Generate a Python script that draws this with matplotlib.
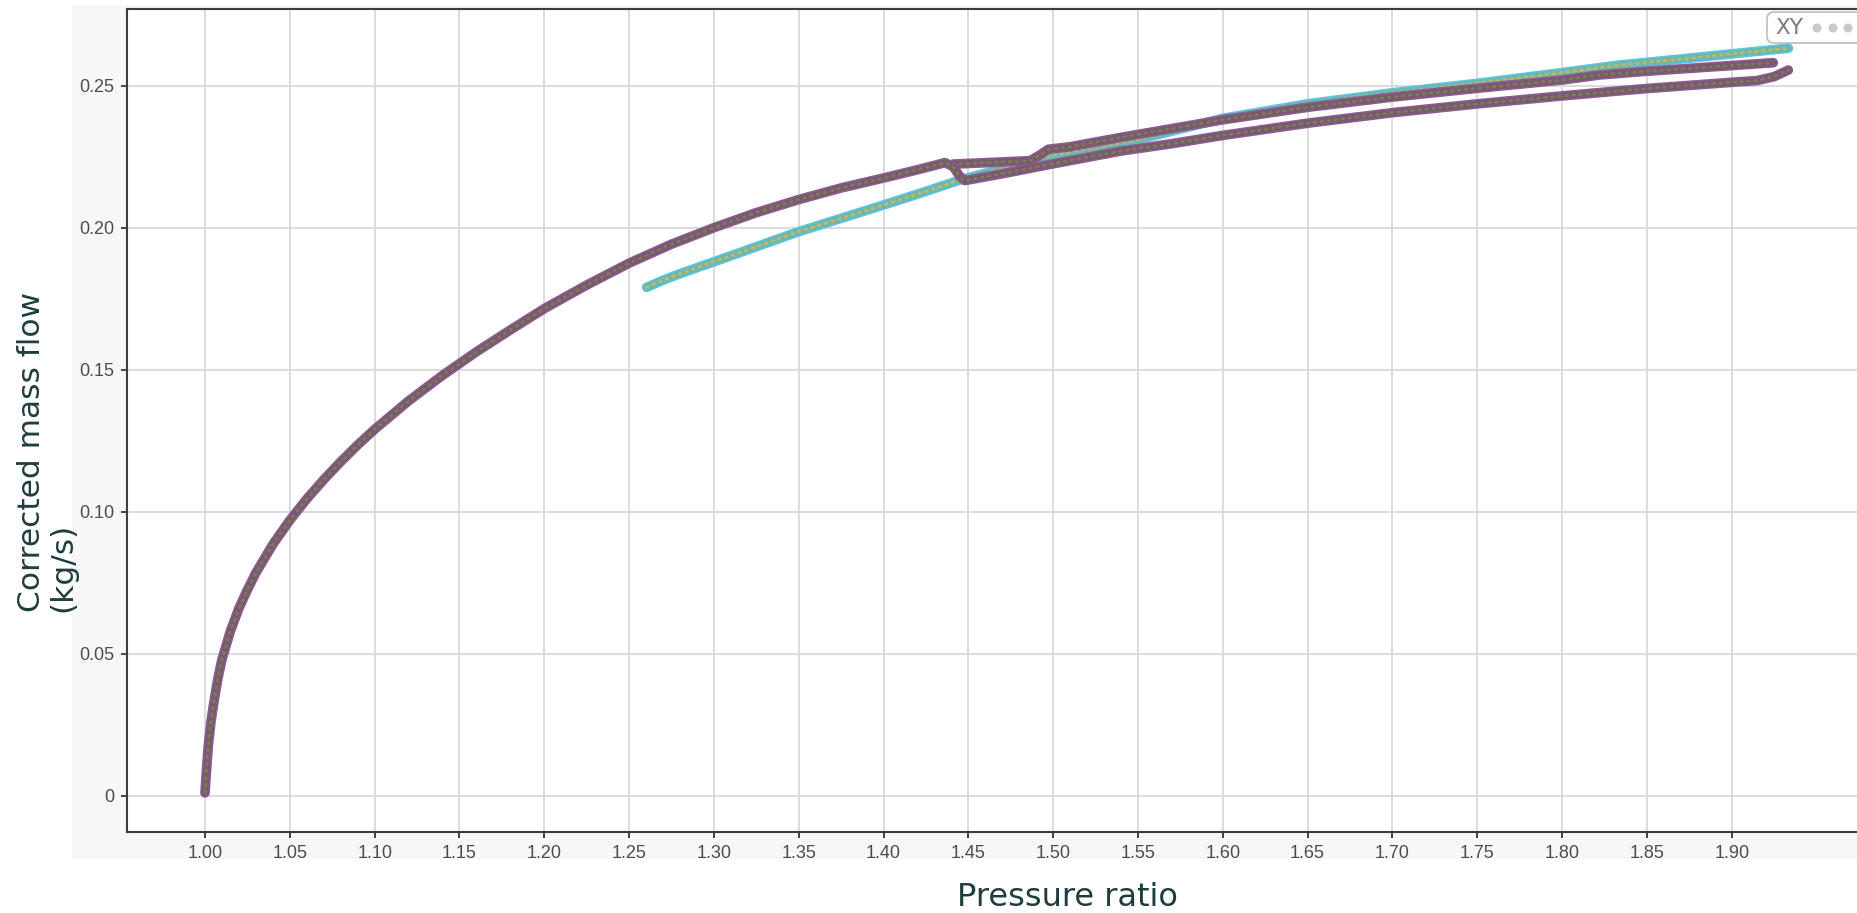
import numpy as np
import matplotlib
matplotlib.use("Agg")
import matplotlib.pyplot as plt
import matplotlib.patches as patches

#  Values (pressure ratio vs corrected mass flow)
#  Purple run: main curve, kink near 1.44, then lower branch up to the hook
purple_main_pr = [1.000, 1.001, 1.002, 1.0035, 1.005, 1.0075, 1.010, 1.015,
                  1.020, 1.025, 1.030, 1.040, 1.050, 1.060, 1.070, 1.080,
                  1.090, 1.100, 1.120, 1.140, 1.160, 1.180, 1.200, 1.225,
                  1.250, 1.275, 1.300, 1.325, 1.350, 1.375, 1.400, 1.420,
                  1.4362, 1.4411, 1.445, 1.448, 1.470, 1.500, 1.540, 1.569,
                  1.600, 1.650, 1.700, 1.750, 1.800, 1.8341, 1.850, 1.900,
                  1.915, 1.925, 1.9334]
purple_main_mf = [0.001, 0.010, 0.018, 0.026, 0.032, 0.041, 0.048, 0.058,
                  0.066, 0.0725, 0.0785, 0.0885, 0.0970, 0.1045, 0.1113, 0.1176,
                  0.1235, 0.1290, 0.1390, 0.1480, 0.1563, 0.1640, 0.1715, 0.1798,
                  0.1875, 0.1942, 0.2000, 0.2053, 0.2099, 0.2140, 0.2175, 0.2204,
                  0.2229, 0.2215, 0.2180, 0.2166, 0.2190, 0.2225, 0.2270, 0.2295,
                  0.2325, 0.2368, 0.2405, 0.2436, 0.2464, 0.2482, 0.2490, 0.2512,
                  0.2518, 0.2532, 0.2555]

#  Purple upper branch: starts at the kink, steps up near 1.49
purple_upper_pr = [1.441, 1.4607, 1.4864, 1.4922, 1.4971, 1.510, 1.540,
                   1.569, 1.600, 1.650, 1.700, 1.750, 1.800, 1.8224, 1.850,
                   1.900, 1.9245]
purple_upper_mf = [0.2224, 0.2229, 0.2236, 0.2256, 0.2276, 0.2285, 0.2318,
                   0.2348, 0.2380, 0.2424, 0.2460, 0.2491, 0.2520, 0.2538, 0.2551,
                   0.2571, 0.2581]

#  Cyan run
cyan_pr = [1.2604, 1.270, 1.280, 1.300, 1.350, 1.400, 1.4215, 1.4451, 1.500,
           1.550, 1.600, 1.650, 1.700, 1.750, 1.800, 1.8341, 1.850,
           1.900, 1.9334]
cyan_mf = [0.1790, 0.1815, 0.1838, 0.1880, 0.1986, 0.2080, 0.2121, 0.2168, 0.2256,
           0.2310, 0.2385, 0.2436, 0.2475, 0.2508, 0.2546, 0.2573, 0.2582,
           0.2612, 0.2632]

x_ticks = [1.00, 1.05, 1.10, 1.15, 1.20, 1.25, 1.30, 1.35, 1.40, 1.45,
           1.50, 1.55, 1.60, 1.65, 1.70, 1.75, 1.80, 1.85, 1.90]
y_ticks = [0, 0.05, 0.10, 0.15, 0.20, 0.25]
y_tick_labels = ["0", "0.05", "0.10", "0.15", "0.20", "0.25"]

fig = plt.figure(figsize=(18.58, 9.13), dpi=100)
fig.patch.set_facecolor("white")

#  light grey panel behind the tick labels
fig.patches.append(patches.Rectangle((72 / 1858, (913 - 859) / 913),
                                     1 - 72 / 1858, (859 - 5) / 913,
                                     transform=fig.transFigure,
                                     facecolor="#f7f7f7", edgecolor="none",
                                     zorder=-5))

ax = fig.add_axes([126.7 / 1858, (913 - 832) / 913,
                   1 - 126.7 / 1858, (832 - 9.3) / 913])
ax.set_facecolor("white")
ax.set_zorder(1)


def draw_band(pr, mf, edge, body, dots, z):
    #  thick band with a dotted core, looks like densely packed markers
    ax.plot(pr, mf, color=edge, lw=7.0, solid_capstyle="round",
            solid_joinstyle="round", zorder=z)
    ax.plot(pr, mf, color=body, lw=4.8, solid_capstyle="round",
            solid_joinstyle="round", zorder=z + 0.1)
    ax.plot(pr, mf, color=dots, lw=2.2, linestyle=(0, (0.5, 1.8)),
            dash_capstyle="round", zorder=z + 0.2)


draw_band(cyan_pr, cyan_mf, "#5cc3e4", "#6cb8ad", "#c2b860", 3)
draw_band(purple_upper_pr, purple_upper_mf, "#8e5a94", "#785a70", "#7d7a54", 4)
draw_band(purple_main_pr, purple_main_mf, "#8e5a94", "#785a70", "#7d7a54", 5)

ax.set_xlim(0.95384, 1.97446)
ax.set_ylim(-0.01278, 0.27690)
ax.set_xticks(x_ticks)
ax.set_xticklabels(["%.2f" % v for v in x_ticks])
ax.set_yticks(y_ticks)
ax.set_yticklabels(y_tick_labels)

ax.grid(True, color="#d9d9d9", lw=1.3, zorder=0)
ax.set_axisbelow(True)

for side in ["left", "bottom", "top"]:
    ax.spines[side].set_color("#3c3c3c")
    ax.spines[side].set_linewidth(1.5)
ax.spines["right"].set_visible(False)

ax.tick_params(axis="both", direction="out", length=4, width=1.3,
               color="#333333", labelcolor="#4d4d4d", labelsize=13, pad=5)
for lbl in ax.get_xticklabels() + ax.get_yticklabels():
    lbl.set_fontfamily("Liberation Sans")

#  axis titles
fig.text(1067 / 1858, (913 - 906) / 913, "Pressure ratio", ha="center",
         va="baseline", fontsize=23, color="#1f3d3f", family="DejaVu Sans")
fig.text(47 / 1858, (913 - 612) / 913, "Corrected mass flow\n(kg/s)",
         rotation=90, ha="center", va="bottom", multialignment="left",
         fontsize=22.5, color="#1f3d3f", family="DejaVu Sans", linespacing=1.1)

#  little "XY" badge in the top right corner
badge = patches.FancyBboxPatch((17.67, 8.70), 1.2, 0.31,
                               boxstyle="round,pad=0,rounding_size=0.07",
                               transform=fig.dpi_scale_trans,
                               facecolor="white", edgecolor="#bdbdbd",
                               lw=1.2, zorder=10)
fig.patches.append(badge)
fig.text(17.75 / 18.58, 8.85 / 9.13, "XY", ha="left", va="center",
         fontsize=15.5, color="#7a7a7a", zorder=11)
for cx in [18.17, 18.33, 18.48]:
    fig.patches.append(patches.Circle((cx, 8.85), 0.045,
                                      transform=fig.dpi_scale_trans,
                                      facecolor="#c9c9c9", edgecolor="none",
                                      zorder=11))

fig.savefig("out.png", dpi=100)
